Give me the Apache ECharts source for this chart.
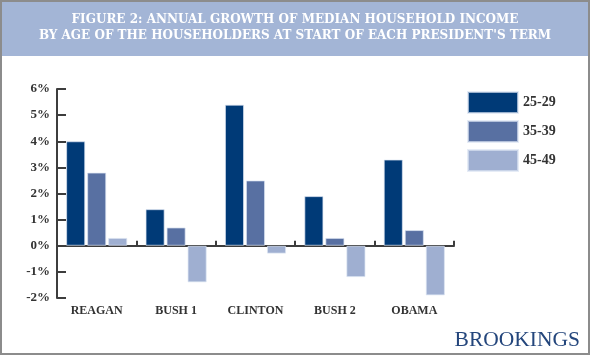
<!DOCTYPE html>
<html>
<head>
<meta charset="utf-8">
<script src="https://cdn.jsdelivr.net/npm/echarts@6/dist/echarts.min.js"></script>
<style>
html,body{margin:0;padding:0;background:#fff;}
#chart{width:591px;height:358px;}
</style>
</head>
<body>
<div id="chart"></div>
<script>
const titleLines = ["FIGURE 2: ANNUAL GROWTH OF MEDIAN HOUSEHOLD INCOME", "BY AGE OF THE HOUSEHOLDERS AT START OF EACH PRESIDENT'S TERM"];
const categories = ["REAGAN", "BUSH 1", "CLINTON", "BUSH 2", "OBAMA"];
const seriesNames = ["25-29", "35-39", "45-49"];
const age25_29 = [4.0, 1.4, 5.4, 1.9, 3.3];
const age35_39 = [2.8, 0.7, 2.5, 0.3, 0.6];
const age45_49 = [0.3, -1.4, -0.3, -1.2, -1.9];
const seriesColors = ["#003a77", "#5870a2", "#9fafd1"];
const sourceText = "BROOKINGS";

const serif = "'Liberation Serif', 'DejaVu Serif', serif";
const titleFont = "'DejaVu Serif', serif";
const axisColor = "#3d3d3d";

const chart = echarts.init(document.getElementById('chart'), null, {renderer: 'canvas'});
const dataSets = [age25_29, age35_39, age45_49];

chart.setOption({
  animation: false,
  backgroundColor: '#ffffff',
  grid: {left: 57, right: 137, top: 89, bottom: 60, containLabel: false},
  legend: {
    data: seriesNames,
    orient: 'vertical',
    left: 462, top: 86,
    itemWidth: 50, itemHeight: 21, itemGap: 6,
    icon: 'rect',
    textStyle: {fontFamily: serif, fontWeight: 'bold', fontSize: 14, color: '#333'}
  },
  xAxis: [{
    type: 'category',
    data: categories,
    position: 'bottom',
    axisLine: {onZero: true, lineStyle: {color: axisColor, width: 2}},
    axisTick: {show: true, inside: true, length: 5, lineStyle: {color: axisColor, width: 2}},
    axisLabel: {show: false},
    splitLine: {show: false}
  }, {
    type: 'category',
    data: categories,
    position: 'bottom',
    axisLine: {show: false, onZero: false},
    axisTick: {show: false},
    axisLabel: {show: true, margin: 7, fontFamily: serif, fontWeight: 'bold', fontSize: 12, color: '#333'},
    splitLine: {show: false}
  }],
  yAxis: {
    type: 'value',
    min: -2, max: 6, interval: 1,
    axisLine: {show: true, onZero: false, lineStyle: {color: axisColor, width: 2}},
    axisTick: {show: true, inside: true, length: 9, lineStyle: {color: axisColor, width: 2}},
    axisLabel: {formatter: '{value}%', margin: 7, fontFamily: serif, fontWeight: 'bold', fontSize: 13, color: '#333'},
    splitLine: {show: false}
  },
  series: seriesNames.map((name, i) => ({
    name: name,
    type: 'bar',
    xAxisIndex: 0,
    data: dataSets[i],
    barGap: '10%',
    barCategoryGap: '23%',
    itemStyle: {color: seriesColors[i], borderColor: 'rgba(220,228,242,0.7)', borderWidth: 1}
  })),
  graphic: [
    {type: 'rect', z: -1, shape: {x: 2, y: 2, width: 586, height: 54}, style: {fill: '#a3b5d6'}},
    {type: 'rect', z: 10, shape: {x: 1, y: 1, width: 588, height: 353}, style: {fill: 'none', stroke: '#8c8c8c', lineWidth: 2}},
    {type: 'text', x: 295, y: 20, style: {text: titleLines[0], fill: '#ffffff', font: "bold 12px " + titleFont, textAlign: 'center', textVerticalAlign: 'middle'}},
    {type: 'text', x: 295, y: 36, style: {text: titleLines[1], fill: '#ffffff', font: "bold 12px " + titleFont, textAlign: 'center', textVerticalAlign: 'middle'}},
    {type: 'text', x: 580, y: 340, style: {text: sourceText, fill: '#24467c', font: "21.5px " + serif, textAlign: 'right', textVerticalAlign: 'middle'}}
  ]
});
</script>
</body>
</html>
